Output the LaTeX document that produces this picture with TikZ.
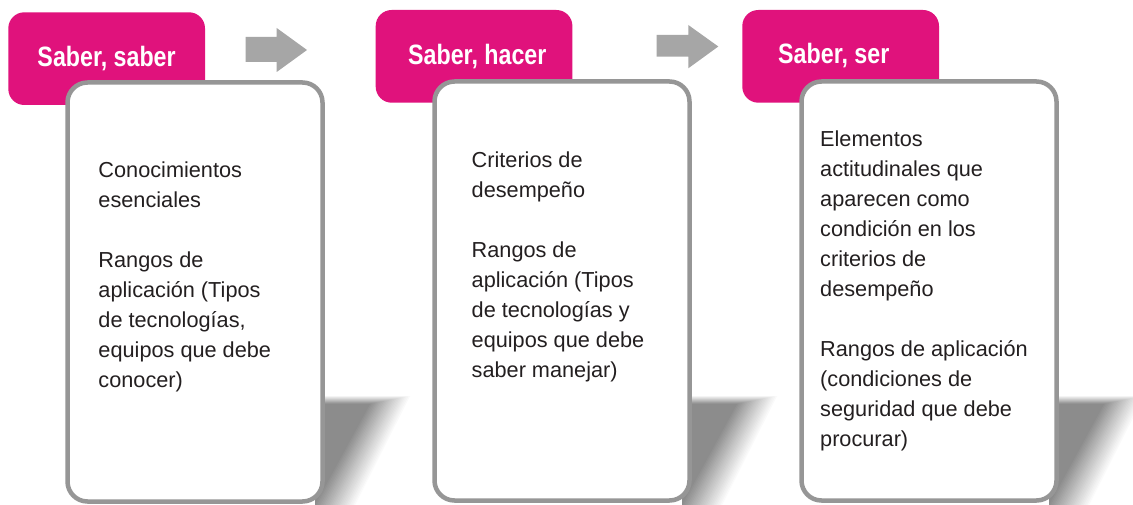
\documentclass[tikz,border=0pt]{standalone}
\usepackage{fontspec}
\setmainfont{Liberation Sans}
\newfontfamily\titlefont{Liberation Sans}[FakeStretch=0.83]
\definecolor{pinkc}{RGB}{224,18,124}
\definecolor{arrowc}{RGB}{166,166,166}
\definecolor{borderc}{RGB}{150,150,150}
\definecolor{shc}{RGB}{140,140,140}
\definecolor{textc}{RGB}{35,31,32}
\newcommand\myshadow[1]{%
  \foreach \k in {0,...,23}{%
    \pgfmathsetmacro\ta{#1+85-40*\k/23}%
    \pgfmathsetmacro\tb{\ta-55}%
    \pgfmathsetmacro\ty{396+8*\k/23}%
    \pgfmathsetmacro\p{100*(\k+1)/24}%
    \fill[shc!\p!white] (#1-10,\ty) -- (\ta,\ty) -- (\tb,505) -- (#1-10,505) -- cycle;
  }%
}
\begin{document}
\begin{tikzpicture}[x=1bp,y=-1bp,
  pinkbox/.style={fill=pinkc, draw=none, rounded corners=16bp, inner sep=0pt, outer sep=0pt,
    minimum width=196.7bp, minimum height=92.7bp, anchor=north west},
  whitebox/.style={fill=white, draw=borderc, line width=4.5bp, rounded corners=20bp, inner sep=0pt,
    outer sep=0pt, minimum width=255bp, minimum height=419bp, anchor=north west},
  titletext/.style={text=white, font=\titlefont\bfseries\fontsize{28bp}{32bp}\selectfont,
    inner sep=0pt, anchor=base west},
  bodytext/.style={text=textc, font=\fontsize{21.7bp}{30bp}\selectfont, inner sep=0pt, anchor=base west},
  blockarrow/.style={fill=arrowc, draw=none}
  ]
\useasboundingbox (0,0) rectangle (1133,505);
\fill[white] (0,0) rectangle (1133,505);

% shadows
\myshadow{325}
\myshadow{692}
\myshadow{1059}

% pink header boxes
\node[pinkbox] (p1) at (8.3,12.3) {};
\node[pinkbox] (p2) at (375.7,10) {};
\node[pinkbox] (p3) at (742.3,10) {};

% white content boxes
\node[whitebox] (w1) at (67.5,82.5) {};
\node[whitebox] (w2) at (434.5,81.5) {};
\node[whitebox] (w3) at (801.5,81.5) {};

% titles
\node[titletext] (t1) at (37.3,66.7) {Saber, saber};
\node[titletext] (t2) at (408,64.5) {Saber, hacer};
\node[titletext] (t3) at (778,63.5) {Saber, ser};

% arrows
\fill[blockarrow] (245.7,37) -- (276.7,37) -- (276.7,28) -- (307,50) -- (276.7,72) -- (276.7,62) -- (245.7,62) -- cycle;
\fill[blockarrow] (656.7,35) -- (688.3,35) -- (688.3,25) -- (718.3,46.5) -- (688.3,68.3) -- (688.3,56.7) -- (656.7,56.7) -- cycle;

% body texts
\node[bodytext] (b1) at (98.3,177.7) {\parbox[t]{220bp}{\raggedright
  Conocimientos\\esenciales\\[30bp]Rangos de\\aplicación (Tipos\\de tecnologías,\\equipos que debe\\conocer)}};
\node[bodytext] (b2) at (471.5,168) {\parbox[t]{220bp}{\raggedright
  Criterios de\\desempeño\\[30bp]Rangos de\\aplicación (Tipos\\de tecnologías y\\equipos que debe\\saber manejar)}};
\node[bodytext] (b3) at (820,147) {\parbox[t]{230bp}{\raggedright
  Elementos\\actitudinales que\\aparecen como\\condición en los\\criterios de\\desempeño\\[30bp]Rangos de aplicación\\(condiciones de\\seguridad que debe\\procurar)}};
\end{tikzpicture}
\end{document}
